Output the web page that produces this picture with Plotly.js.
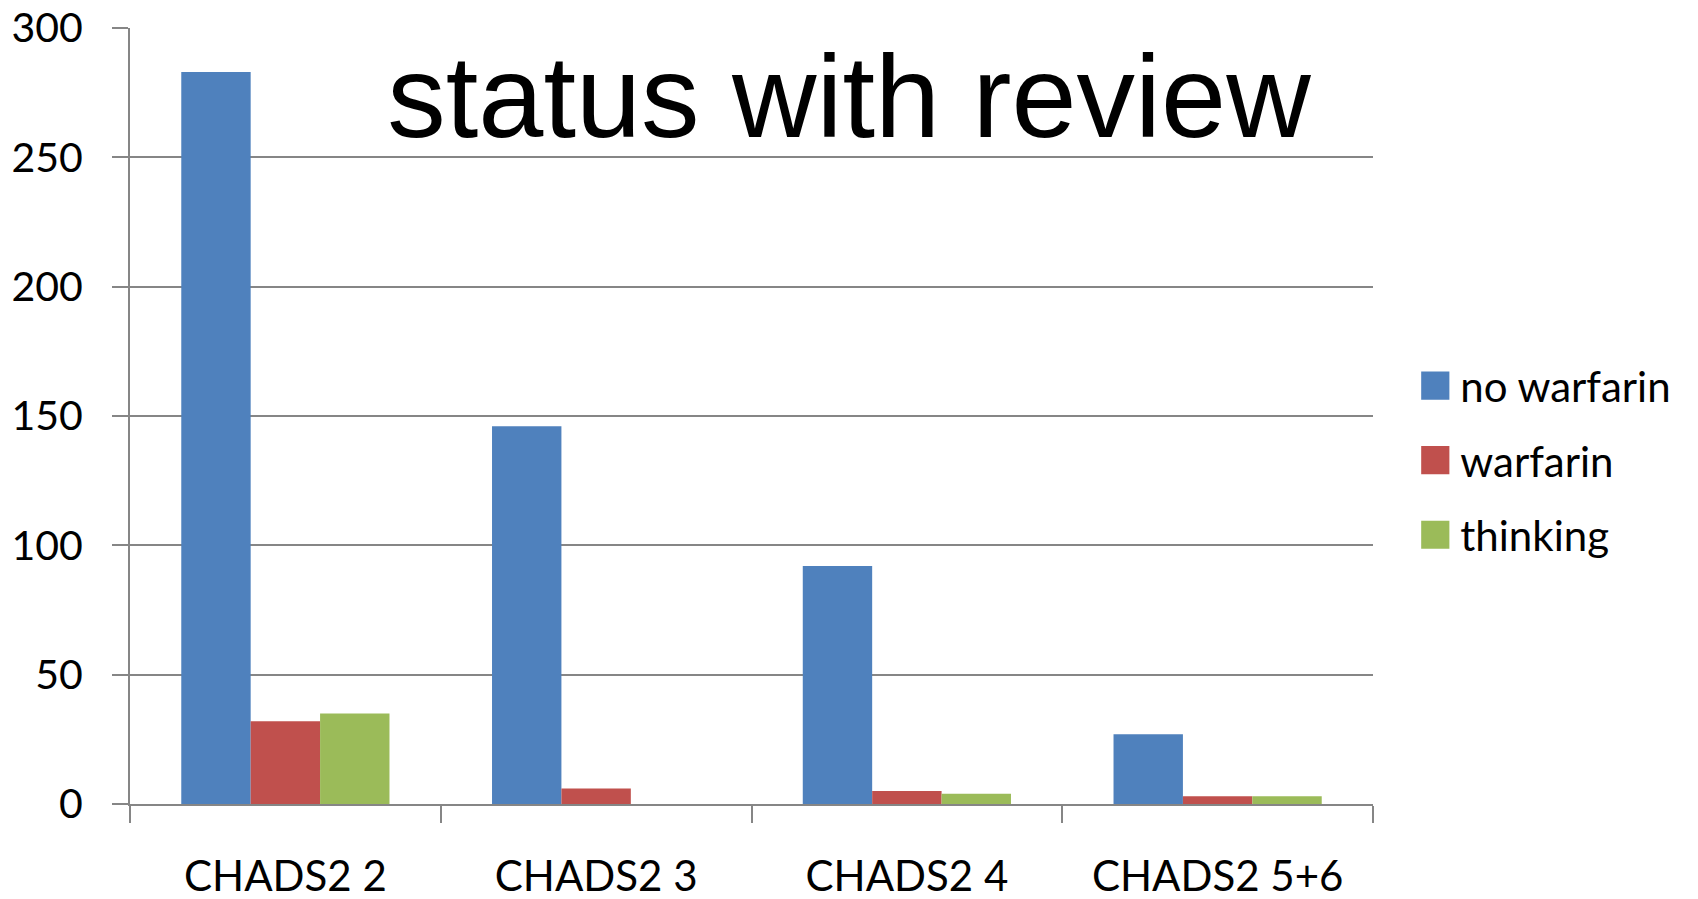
<!DOCTYPE html>
<html>
<head>
<meta charset="utf-8">
<script src="https://cdn.plot.ly/plotly-3.0.1.min.js"></script>
<style>html,body{margin:0;padding:0;background:#fff;}#chart{width:1698px;height:899px;}</style>
</head>
<body>
<div id="chart"></div>
<script>
var categories = ["CHADS2 2", "CHADS2 3", "CHADS2 4", "CHADS2 5+6"];
var seriesNames = ["no warfarin", "warfarin", "thinking"];
var noWarfarin = [283, 146, 92, 27];
var warfarin = [32, 6, 5, 3];
var thinking = [35, 0, 4, 3];
var yTicks = [0, 50, 100, 150, 200, 250, 300];
var titleText = "status with review";

var colors = ["#4F81BD", "#C0504D", "#9BBB59"];
var values = [noWarfarin, warfarin, thinking];

var traces = values.map(function (v, i) {
  return {
    type: "bar",
    name: seriesNames[i],
    x: categories,
    y: v,
    legendgroup: "g" + i,
    marker: {color: colors[i], line: {width: 0}},
    hoverinfo: "x+y+name"
  };
});

var layout = {
  width: 1698,
  height: 899,
  paper_bgcolor: "#ffffff",
  plot_bgcolor: "#ffffff",
  margin: {l: 130, r: 325, t: 28, b: 95, pad: 0},
  barmode: "group",
  bargap: 0.33,
  bargroupgap: 0,
  title: {
    text: titleText,
    font: {family: "Liberation Sans, Arial, sans-serif", size: 117, color: "#000000"},
    x: 0.5, xref: "container", xanchor: "center",
    y: 0.893, yref: "container", yanchor: "middle"
  },
  font: {family: "Lato, sans-serif", color: "#000000"},
  xaxis: {
    type: "category",
    showline: true, linecolor: "#868686", linewidth: 2,
    ticks: "outside", tickson: "boundaries", ticklen: 17, tickwidth: 2, tickcolor: "#868686",
    tickfont: {family: "Lato, sans-serif", size: 42, color: "#000000"},
    ticklabelstandoff: 35,
    showgrid: false, zeroline: false, fixedrange: true
  },
  yaxis: {
    range: [0, 300],
    tickvals: yTicks,
    ticktext: yTicks.map(String),
    showline: true, linecolor: "#868686", linewidth: 2,
    ticks: "outside", ticklen: 16, tickwidth: 2, tickcolor: "#868686",
    showgrid: true, gridcolor: "#868686", gridwidth: 2,
    zeroline: false,
    tickfont: {family: "Lato, sans-serif", size: 41, color: "#000000"},
    ticklabelstandoff: 21,
    fixedrange: true
  },
  showlegend: true,
  legend: {
    x: 1.03, xanchor: "left",
    y: 0.443, yanchor: "middle",
    font: {family: "Lato, sans-serif", size: 42, color: "#000000"},
    tracegroupgap: 17,
    itemwidth: 40,
    bgcolor: "rgba(0,0,0,0)",
    borderwidth: 0,
    traceorder: "grouped"
  }
};

Plotly.newPlot("chart", traces, layout, {displayModeBar: false, staticPlot: true}).then(function (gd) {
  var pts = gd.querySelectorAll(".legend .legendpoints path");
  pts.forEach(function (p) {
    var t = p.getAttribute("transform") || "";
    p.setAttribute("transform", t + " scale(2.35)");
  });
});
</script>
</body>
</html>
